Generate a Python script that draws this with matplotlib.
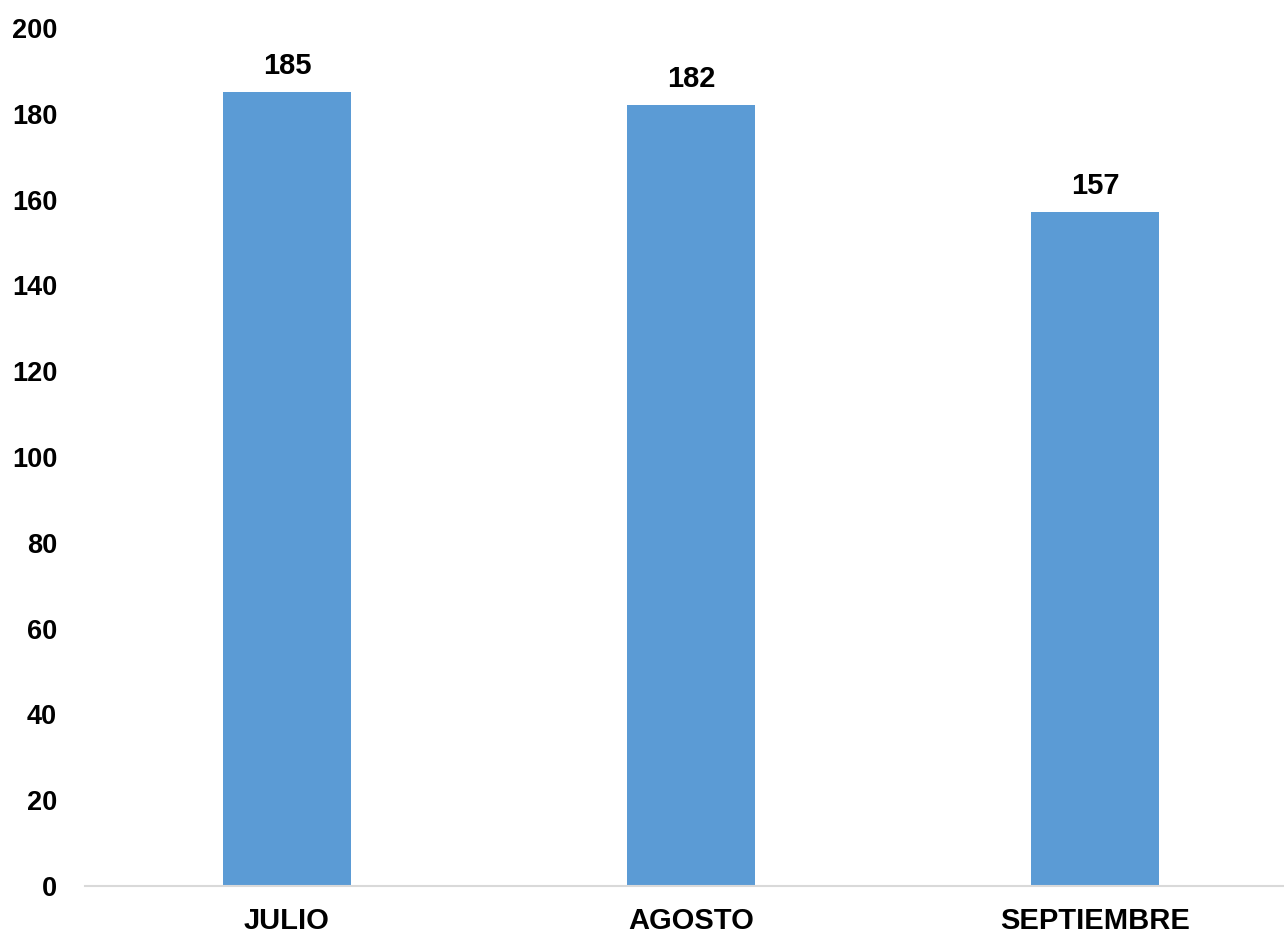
import matplotlib
matplotlib.use("Agg")
from matplotlib import pyplot as plt
import numpy as np

months = ["JULIO", "AGOSTO", "SEPTIEMBRE"]
counts = [185, 182, 157]
yticks = list(range(0, 201, 20))

plt.rcParams['font.family'] = ['Liberation Sans', 'DejaVu Sans']
plt.rcParams['font.weight'] = 'bold'

fig = plt.figure(figsize=(12.84, 9.34), dpi=100)
# axes runs a little past the right edge, as in the cropped original
ax = fig.add_axes([85/1284, 1 - 886/934, 1212/1284, (886 - 28)/934])

x = np.arange(len(months))
bars = ax.bar(x, counts, width=0.315, color="#5B9BD5", zorder=2)

for xi, v in zip(x, counts):
    ax.annotate(str(v), (xi, v), xytext=(0, 9), textcoords="offset points",
                ha="center", va="bottom", fontsize=21, fontweight="bold")

ax.set_xlim(-0.5, 2.5)
ax.set_ylim(0, 200)
ax.set_yticks(yticks)
ax.set_xticks(x)
ax.set_xticklabels(months, fontsize=21)

for s in ["top", "right", "left"]:
    ax.spines[s].set_visible(False)
ax.spines["bottom"].set_color("#D9D9D9")
ax.spines["bottom"].set_linewidth(1.5)
ax.tick_params(axis="y", length=0, labelsize=19.5, pad=20)
ax.tick_params(axis="x", length=0, pad=15)

plt.savefig("out.png", dpi=100)
